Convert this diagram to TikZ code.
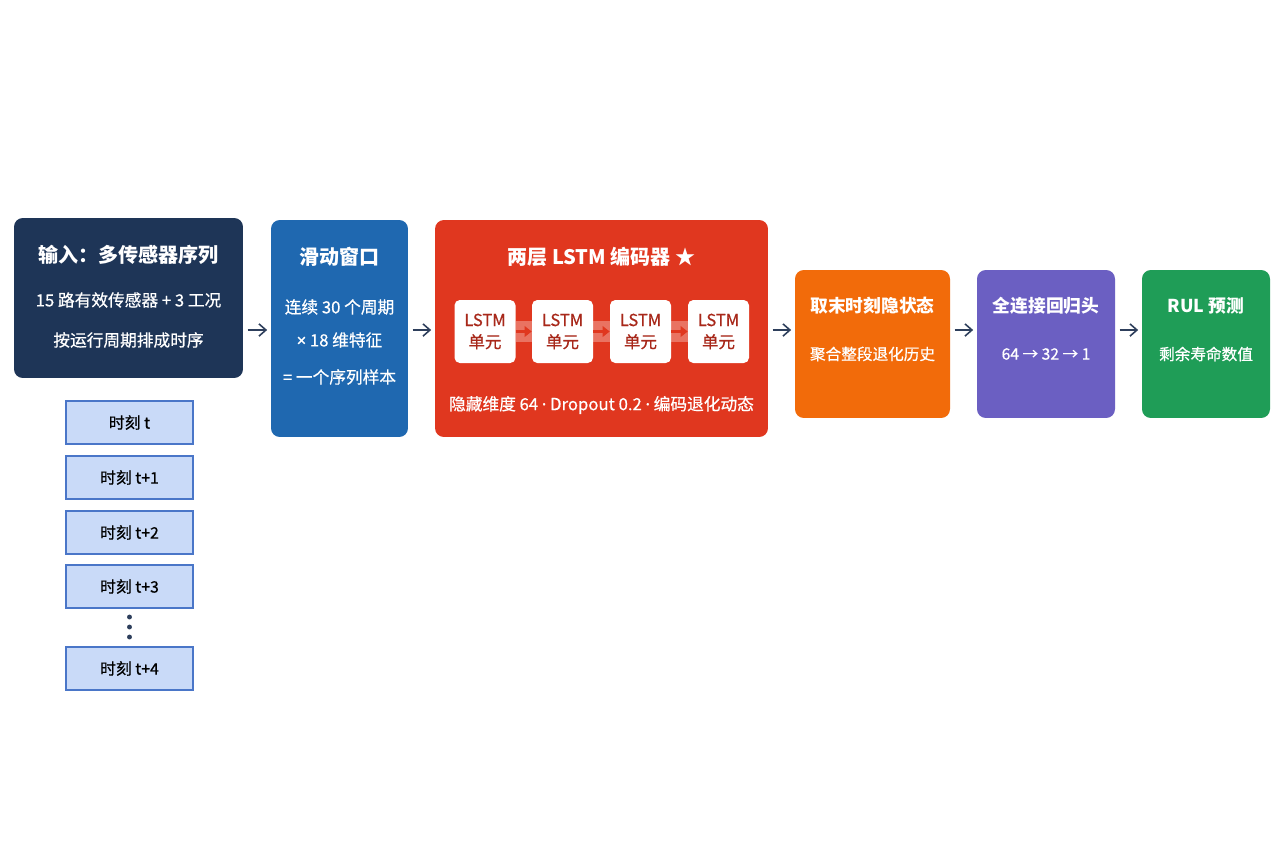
\documentclass[tikz,border=0pt]{standalone}
\usepackage{fontspec}
\setmainfont{Noto Sans CJK SC}
\newfontfamily\semifont[FakeBold=0.6]{Noto Sans CJK SC}
\newfontfamily\latinfont[FakeBold=0.6]{Noto Sans}
\usetikzlibrary{positioning,arrows.meta}

\definecolor{navyin}{HTML}{1E3557}
\definecolor{bluewin}{HTML}{1F68B0}
\definecolor{redenc}{HTML}{E0371F}
\definecolor{redtxt}{HTML}{A8281A}
\definecolor{orangelast}{HTML}{F26B0A}
\definecolor{purplefc}{HTML}{6B5FC2}
\definecolor{greenrul}{HTML}{1F9D57}
\definecolor{stepfill}{HTML}{C9DAF8}
\definecolor{stepline}{HTML}{4A76C8}
\definecolor{flowcol}{HTML}{2E3F5C}

\tikzset{
  stage/.style={rounded corners=5pt, inner sep=0pt, draw=none},
  title/.style={text=white, font=\fontsize{11.4}{13}\selectfont\bfseries},
  sub/.style={text=white, font=\fontsize{9.5}{11}\selectfont\semifont},
  titlesm/.style={title, font=\fontsize{10.1}{12}\selectfont\bfseries},
  subsm/.style={sub, font=\fontsize{8.9}{11}\selectfont\semifont},
  cell/.style={rounded corners=3pt, fill=white, minimum width=1.22cm, minimum height=1.26cm,
    inner sep=0pt, align=center, text=redtxt, font=\fontsize{9.4}{12.5}\selectfont\semifont},
  tstep/.style={draw=stepline, fill=stepfill, line width=0.8pt, minimum width=2.54cm,
    minimum height=0.86cm, inner sep=0pt, font=\fontsize{9}{10}\selectfont\semifont},
  flow/.style={-{Straight Barb[length=4pt,width=7pt,line width=0.9pt]}, draw=flowcol,
    line width=0.9pt, shorten <=2.5pt, shorten >=2pt},
  cellflow/.style={-{Triangle[length=4pt,width=6pt]}, draw=redenc, line width=1.4pt}
}
\newcommand{\smtimes}{{\latinfont ×}}
\newcommand{\smdot}{{\latinfont ·}}

\begin{document}
\begin{tikzpicture}[x=0.02cm, y=-0.02cm]
\useasboundingbox (0,0) rectangle (1280,853);

% Main stages
\node[stage, fill=navyin, minimum width=4.58cm, minimum height=3.2cm] (inp) at (128.5,298) {};
\node[stage, fill=bluewin, minimum width=2.74cm, minimum height=4.34cm] (win) at (339.5,328.5) {};
\node[stage, fill=redenc, minimum width=6.66cm, minimum height=4.34cm] (enc) at (601.5,328.5) {};
\node[stage, fill=orangelast, minimum width=3.1cm, minimum height=2.96cm] (last) at (872.5,344) {};
\node[stage, fill=purplefc, minimum width=2.76cm, minimum height=2.96cm] (fc) at (1046,344) {};
\node[stage, fill=greenrul, minimum width=2.56cm, minimum height=2.96cm] (rul) at (1206,344) {};

% Texts of the stages
\node[title] (inp-t) at (128.5,255) {输入：多传感器序列};
\node[sub] (inp-a) at (128.5,300) {15 路有效传感器 + 3 工况};
\node[sub] (inp-b) at (128.5,340) {按运行周期排成时序};

\node[title] (win-t) at (339.5,257) {滑动窗口};
\node[sub] (win-a) at (339.5,307) {连续 30 个周期};
\node[sub] (win-b) at (339.5,340) {\smtimes{} 18 维特征};
\node[sub] (win-c) at (339.5,377) {= 一个序列样本};

\node[title] (enc-t) at (601.5,257) {两层 LSTM 编码器 ★};
\node[sub] (enc-b) at (601.5,405) {隐藏维度 64 \smdot{} Dropout 0.2 \smdot{} 编码退化动态};

\node[titlesm] (last-t) at (872.5,306) {取末时刻隐状态};
\node[subsm] (last-a) at (872.5,354) {聚合整段退化历史};

\node[titlesm] (fc-t) at (1046,306) {全连接回归头};
\node[subsm] (fc-a) at (1046,354) {64 → 32 → 1};

\node[titlesm] (rul-t) at (1206,306) {RUL 预测};
\node[subsm] (rul-a) at (1206,354) {剩余寿命数值};

% LSTM cells
\foreach \i/\x in {1/485,2/562.5,3/640.5,4/718.5}
  \node[cell] (c\i) at (\x,331.5) {LSTM\\单元};
\foreach \a/\b in {1/2,2/3,3/4} {
  \fill[white, opacity=0.3] ([yshift=-6pt]c\a.east) rectangle ([yshift=6pt]c\b.west);
  \draw[cellflow] (c\a.east) -- (c\b.west);
}

% Flow between stages
\coordinate (row) at (0,330);
\draw[flow] (inp.east |- row) -- (win.west |- row);
\draw[flow] (win.east |- row) -- (enc.west |- row);
\draw[flow] (enc.east |- row) -- (last.west |- row);
\draw[flow] (last.east |- row) -- (fc.west |- row);
\draw[flow] (fc.east |- row) -- (rul.west |- row);

% Time steps
\node[tstep] (s0) at (129.5,422.5) {时刻 t};
\node[tstep] (s1) at (129.5,477.5) {时刻 t+1};
\node[tstep] (s2) at (129.5,532.5) {时刻 t+2};
\node[tstep] (s3) at (129.5,586.5) {时刻 t+3};
\node[tstep] (s4) at (129.5,668.5) {时刻 t+4};
\foreach \y in {617,627,637}
  \fill[flowcol] (129.5,\y) circle (1.4pt);
\end{tikzpicture}
\end{document}
